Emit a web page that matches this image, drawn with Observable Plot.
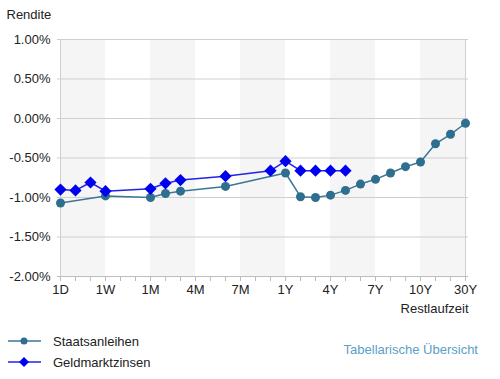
<!DOCTYPE html>
<html>
<head>
<meta charset="utf-8">
<script src="https://cdn.jsdelivr.net/npm/d3@7"></script>
<script src="https://cdn.jsdelivr.net/npm/@observablehq/plot@0.6"></script>
<style>
  body { margin: 0; background: #fff; font-family: "Liberation Sans", Arial, sans-serif; }
  #wrap { position: relative; width: 500px; height: 379px; overflow: hidden; }
  .leg { position: absolute; font-size: 13px; color: #222; display: flex; align-items: center; }
  .leg svg { margin-right: 12px; }
  #link { position: absolute; right: 22px; top: 342px; font-size: 13px; color: #5b9ec6; }
</style>
</head>
<body>
<div id="wrap">
  <div id="chart"></div>
  <div class="leg" style="left:8px; top:333px;">
    <svg width="33" height="16"><line x1="0" y1="8" x2="33" y2="8" stroke="#3a7896" stroke-width="1.5"/><circle cx="16" cy="8" r="3.5" fill="#2e6e8e"/></svg>
    <span>Staatsanleihen</span>
  </div>
  <div class="leg" style="left:8px; top:354px;">
    <svg width="33" height="16"><line x1="0" y1="8" x2="33" y2="8" stroke="#2222e8" stroke-width="1.5"/><path d="M16,3 L21,8 L16,13 L11,8 Z" fill="#0000f0"/></svg>
    <span>Geldmarktzinsen</span>
  </div>
  <div id="link">Tabellarische Übersicht</div>
</div>
<script>
const categories = ["1D","2D","3D","1W","2W","3W","1M","2M","3M","4M","5M","6M","7M","8M","9M","1Y","2Y","3Y","4Y","5Y","6Y","7Y","8Y","9Y","10Y","15Y","20Y","30Y"];
const tickLabels = ["1D","1W","1M","4M","7M","1Y","4Y","7Y","10Y","30Y"];
const yTicks = [-2, -1.5, -1, -0.5, 0, 0.5, 1];

const staatTerms = ["1D","1W","1M","2M","3M","6M","1Y","2Y","3Y","4Y","5Y","6Y","7Y","8Y","9Y","10Y","15Y","20Y","30Y"];
const staatValues = [-1.07,-0.98,-1.00,-0.95,-0.92,-0.86,-0.69,-0.99,-1.00,-0.97,-0.91,-0.83,-0.77,-0.69,-0.61,-0.55,-0.32,-0.20,-0.06];

const geldTerms = ["1D","2D","3D","1W","1M","2M","3M","6M","9M","1Y","2Y","3Y","4Y","5Y"];
const geldValues = [-0.90,-0.91,-0.81,-0.92,-0.89,-0.82,-0.78,-0.73,-0.66,-0.54,-0.66,-0.66,-0.66,-0.66];

const bandFrom = ["1D","1M","7M","4Y","10Y"];
const bandTo   = ["1W","4M","1Y","7Y","30Y"];

const staat = staatTerms.map((t, i) => ({t, v: staatValues[i]}));
const geld = geldTerms.map((t, i) => ({t, v: geldValues[i]}));
const bands = bandFrom.map((f, i) => ({from: f, to: bandTo[i]}));

const chart = Plot.plot({
  width: 500,
  height: 320,
  marginLeft: 57,
  marginRight: 32,
  marginTop: 39,
  marginBottom: 44,
  style: {fontFamily: '"Liberation Sans", Arial, sans-serif', fontSize: "13px", color: "#222", background: "#fff"},
  x: {type: "point", domain: categories, padding: 0},
  y: {domain: [-2, 1]},
  marks: [
    Plot.rect(bands, {x1: "from", x2: "to", fill: "#f5f5f5"}),
    Plot.ruleY(yTicks, {stroke: "#cfcfcf", strokeWidth: 1}),
    Plot.ruleX([categories[0], categories[categories.length - 1]], {stroke: "#cfcfcf"}),
    Plot.ruleY([-2], {stroke: "#bdbdbd"}),
    Plot.axisX({ticks: categories, tickFormat: d => tickLabels.includes(d) ? d : "", tickSize: 5, tickPadding: 3, stroke: "#bbb", fontSize: 13, label: null}),
    Plot.axisY({ticks: yTicks, tickFormat: d => d.toFixed(2) + "%", tickSize: 0, tickPadding: 7, fontSize: 13, label: null}),
    Plot.text(["Rendite"], {frameAnchor: "top-left", dx: -51, dy: -30, textAnchor: "start", fontSize: 13, fill: "#222"}),
    Plot.text(["Restlaufzeit"], {frameAnchor: "bottom-right", dy: 36, textAnchor: "end", fontSize: 13, fill: "#222"}),
    Plot.line(staat, {x: "t", y: "v", stroke: "#3a7896", strokeWidth: 1.5}),
    Plot.dot(staat, {x: "t", y: "v", r: 4.5, fill: "#2e6e8e", stroke: "none"}),
    Plot.line(geld, {x: "t", y: "v", stroke: "#2222e8", strokeWidth: 1.5}),
    Plot.dot(geld, {x: "t", y: "v", symbol: "diamond2", r: 5.5, fill: "#0000f0", stroke: "none"})
  ]
});
document.getElementById("chart").appendChild(chart);
</script>
</body>
</html>
